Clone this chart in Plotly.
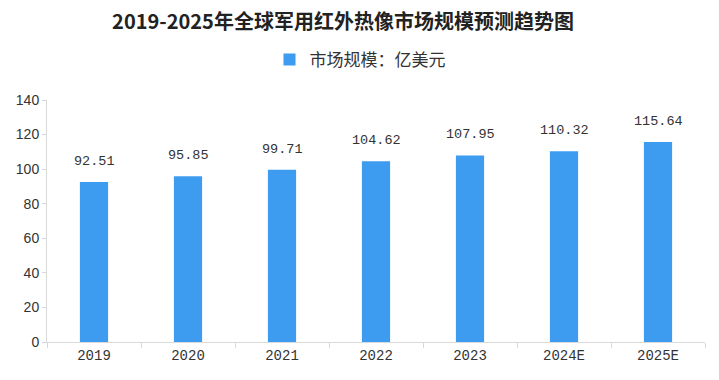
import plotly.graph_objects as go

categories = ["2019", "2020", "2021", "2022", "2023", "2024E", "2025E"]
values = [92.51, 95.85, 99.71, 104.62, 107.95, 110.32, 115.64]
series_name = "市场规模：亿美元"
title = "2019-2025年全球军用红外热像市场规模预测趋势图"

font_family = "Noto Sans CJK SC, sans-serif"
mono = "Liberation Mono, monospace"

fig = go.Figure()
fig.add_trace(go.Bar(
    x=categories, y=values, name=series_name,
    marker=dict(color="#3d9cf0", line=dict(width=0)),
    width=0.3,
))
# value labels: category axis positions are category indices
for i, v in enumerate(values):
    fig.add_annotation(
        x=i, y=v, text=f"{v:.2f}", showarrow=False,
        xref="x", yref="y",
        yanchor="bottom", yshift=11,
        font=dict(size=13.5, color="#333333", family=mono),
    )

fig.update_layout(
    width=719, height=380,
    paper_bgcolor="white", plot_bgcolor="white",
    margin=dict(l=39, r=22, t=92, b=46, autoexpand=False),
    title=dict(text="<b>" + title + "</b>", x=335 / 719, xanchor="center",
               xref="container", y=1 - 14 / 380, yref="container", yanchor="middle",
               font=dict(size=20, color="#222222", family=font_family)),
    showlegend=True,
    legend=dict(orientation="h", x=352 / 719, xanchor="center", xref="container",
                y=1 - 52 / 380, yanchor="middle", yref="container",
                font=dict(size=17, color="#333333", family=font_family),
                itemwidth=30),
)
fig.update_xaxes(
    type="category", categoryorder="array", categoryarray=categories,
    showline=True, linecolor="#d9d9d9", linewidth=1,
    ticks="outside", tickson="boundaries", ticklen=5, tickcolor="#d9d9d9",
    tickfont=dict(size=14, color="#333333", family=mono),
    showgrid=False,
)
fig.update_yaxes(
    range=[0, 140], dtick=20,
    showline=True, linecolor="#d9d9d9", linewidth=1,
    ticks="outside", ticklen=4, tickcolor="#d9d9d9",
    tickfont=dict(size=14, color="#333333", family="Liberation Sans, sans-serif"),
    showgrid=False, zeroline=False,
)

fig.write_html("out.html")
